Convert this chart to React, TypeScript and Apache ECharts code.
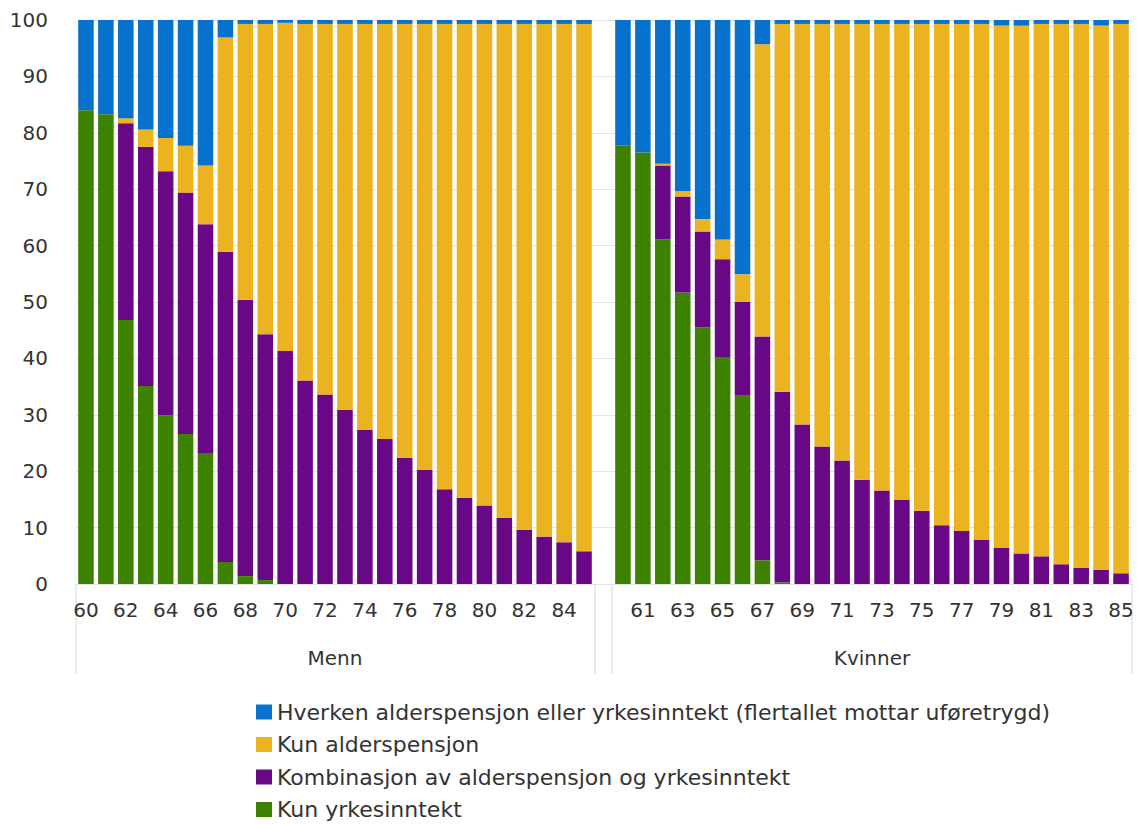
import React, { useEffect, useRef } from "react";
import * as echarts from "echarts";

const ages = ["60","61","62","63","64","65","66","67","68","69","70","71","72","73","74","75","76","77","78","79","80","81","82","83","84","85"];
const groupNames = ["Menn", "Kvinner"];
const seriesNames = [
  "Kun yrkesinntekt",
  "Kombinasjon av alderspensjon og yrkesinntekt",
  "Kun alderspensjon",
  "Hverken alderspensjon eller yrkesinntekt (flertallet mottar uføretrygd)",
];
const legendOrder = [
  "Hverken alderspensjon eller yrkesinntekt (flertallet mottar uføretrygd)",
  "Kun alderspensjon",
  "Kombinasjon av alderspensjon og yrkesinntekt",
  "Kun yrkesinntekt",
];
const colors = ["#3c8100", "#690886", "#ebb320", "#0772cd"];
const yTicks = [0, 10, 20, 30, 40, 50, 60, 70, 80, 90, 100];

// Menn
const mennKunYrkes = [84.0, 83.3, 46.8, 35.1, 29.9, 26.6, 23.1, 3.9, 1.4, 0.7, 0, 0, 0, 0, 0, 0, 0, 0, 0, 0, 0, 0, 0, 0, 0, 0];
const mennKombinasjon = [0, 0, 34.9, 42.4, 43.3, 42.8, 40.7, 55.0, 49.0, 43.6, 41.3, 36.1, 33.6, 30.9, 27.3, 25.7, 22.4, 20.2, 16.8, 15.3, 13.9, 11.7, 9.6, 8.4, 7.4, 5.8];
const mennKunAlders = [0, 0, 0.9, 3.1, 5.9, 8.3, 10.4, 38.0, 48.9, 55.0, 58.2, 63.2, 65.7, 68.4, 72.0, 73.6, 76.9, 79.1, 82.5, 84.0, 85.4, 87.6, 89.7, 90.9, 91.9, 93.5];
const mennHverken = [16.0, 16.7, 17.4, 19.4, 20.9, 22.3, 25.8, 3.1, 0.7, 0.7, 0.5, 0.7, 0.7, 0.7, 0.7, 0.7, 0.7, 0.7, 0.7, 0.7, 0.7, 0.7, 0.7, 0.7, 0.7, 0.7];

// Kvinner
const kvinnerKunYrkes = [77.7, 76.5, 61.1, 51.7, 45.5, 40.1, 33.5, 4.2, 0.3, 0, 0, 0, 0, 0, 0, 0, 0, 0, 0, 0, 0, 0, 0, 0, 0, 0];
const kvinnerKombinasjon = [0, 0, 13.1, 17.0, 17.0, 17.5, 16.5, 39.7, 33.8, 28.3, 24.4, 21.9, 18.5, 16.6, 14.9, 13.0, 10.4, 9.4, 7.8, 6.4, 5.4, 4.9, 3.5, 2.9, 2.5, 1.9];
const kvinnerKunAlders = [0, 0, 0.3, 1.0, 2.2, 3.5, 4.9, 51.8, 65.2, 71.0, 74.9, 77.4, 80.8, 82.7, 84.4, 86.3, 88.9, 89.9, 91.5, 92.6, 93.6, 94.4, 95.8, 96.4, 96.5, 97.4];
const kvinnerHverken = [22.3, 23.5, 25.5, 30.3, 35.3, 38.9, 45.1, 4.3, 0.7, 0.7, 0.7, 0.7, 0.7, 0.7, 0.7, 0.7, 0.7, 0.7, 0.7, 1.0, 1.0, 0.7, 0.7, 0.7, 1.0, 0.7];

const mennData = [mennKunYrkes, mennKombinasjon, mennKunAlders, mennHverken];
const kvinnerData = [kvinnerKunYrkes, kvinnerKombinasjon, kvinnerKunAlders, kvinnerHverken];

const FONT = "'DejaVu Sans', 'Open Sans', sans-serif";
const TEXT = "#333333";
const LINE = "#e3e3e3";

export default function App() {
  const ref = useRef<HTMLDivElement>(null);
  useEffect(() => {
    if (!ref.current) return;
    const chart = echarts.init(ref.current, undefined, { renderer: "svg" });
    const top = 20;
    const bottom = 240;
    const xAxisCommon = (gridIndex: number, odd: boolean, name: string) => ({
      type: "category",
      gridIndex,
      data: ages,
      name,
      nameLocation: "middle",
      nameGap: 64,
      nameTextStyle: { fontFamily: FONT, fontSize: 20, color: TEXT },
      axisLine: { show: true, lineStyle: { color: LINE } },
      axisTick: { show: false },
      axisLabel: {
        interval: (i: number) => (odd ? i % 2 === 1 : i % 2 === 0),
        margin: 16,
        fontFamily: FONT,
        fontSize: 20,
        color: TEXT,
      },
    });
    const hiddenY = (gridIndex: number) => ({
      type: "value",
      gridIndex,
      min: 0,
      max: 100,
      interval: 10,
      show: false,
      splitLine: { show: false },
    });
    const series: any[] = [];
    seriesNames.forEach((n, i) => {
      series.push({
        type: "bar",
        name: n,
        xAxisIndex: 1,
        yAxisIndex: 1,
        stack: "menn",
        barCategoryGap: "22%",
        itemStyle: { color: colors[i] },
        data: mennData[i],
      });
    });
    seriesNames.forEach((n, i) => {
      series.push({
        type: "bar",
        name: n,
        xAxisIndex: 2,
        yAxisIndex: 2,
        stack: "kvinner",
        barCategoryGap: "22%",
        itemStyle: { color: colors[i] },
        data: kvinnerData[i],
      });
    });
    const sepY1 = 584;
    const sepY2 = 674;
    const sepXs = [76, 595, 612, 1132];
    chart.setOption({
      animation: false,
      backgroundColor: "#ffffff",
      textStyle: { fontFamily: FONT },
      grid: [
        { left: 76, right: 5, top, bottom },
        { left: 76, width: 518, top, bottom },
        { left: 613, width: 518, top, bottom },
      ],
      xAxis: [
        { type: "category", gridIndex: 0, data: [""], show: false },
        xAxisCommon(1, false, groupNames[0]),
        xAxisCommon(2, true, groupNames[1]),
      ],
      yAxis: [
        {
          type: "value",
          gridIndex: 0,
          min: yTicks[0],
          max: yTicks[yTicks.length - 1],
          interval: 10,
          axisLine: { show: false },
          axisTick: { show: false },
          splitLine: { show: true, lineStyle: { color: LINE, width: 1 } },
          axisLabel: { margin: 28, fontFamily: FONT, fontSize: 20, color: TEXT },
        },
        hiddenY(1),
        hiddenY(2),
      ],
      legend: {
        data: legendOrder,
        orient: "vertical",
        left: 256,
        top: 700,
        padding: 0,
        itemWidth: 16,
        itemHeight: 15,
        itemGap: 8.5,
        icon: "rect",
        textStyle: { fontFamily: FONT, fontSize: 22, color: TEXT, lineHeight: 24 },
        selectedMode: false,
      },
      graphic: sepXs.map((x) => ({
        type: "line",
        shape: { x1: x, y1: sepY1, x2: x, y2: sepY2 },
        style: { stroke: LINE, lineWidth: 1.5 },
        silent: true,
      })),
      series,
    });
    return () => chart.dispose();
  }, []);
  return (
    <div
      ref={ref}
      style={{ position: "fixed", left: 0, top: 0, width: 1137, height: 824, background: "#fff" }}
    />
  );
}
